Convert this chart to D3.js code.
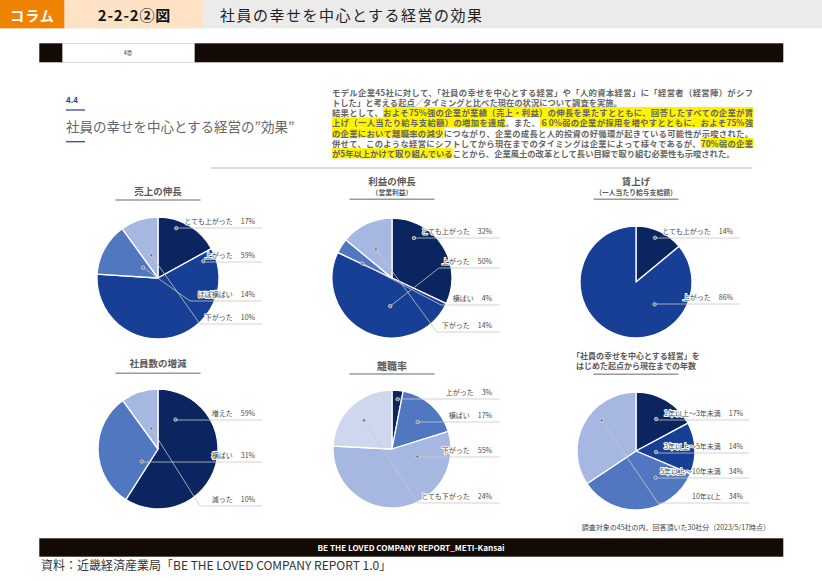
<!DOCTYPE html>
<html>
<head>
<meta charset="utf-8">
<script src="https://cdn.jsdelivr.net/npm/d3@7"></script>
<style>
  body { margin: 0; background: #fff; font-family: "Noto Sans CJK JP", sans-serif; }
  #wrap { position: relative; width: 822px; height: 581px; overflow: hidden; }
  #para { position: absolute; left: 332px; top: 86.5px; width: 421px; font-size: 8.3px; line-height: 10.3px; color: #666; font-weight: bold; }
  #para div { text-align: justify; text-align-last: justify; }
  #para div.short { text-align-last: left; }
</style>
</head>
<body>
<div id="wrap"><div id="para"></div></div>
<script>
// ---- data ----
var salesLabels = ["とても上がった", "上がった", "ほぼ横ばい", "下がった"];
var salesValues = [17, 59, 14, 10];
var profitLabels = ["とても上がった", "上がった", "横ばい", "下がった"];
var profitValues = [32, 50, 4, 14];
var wageLabels = ["とても上がった", "上がった"];
var wageValues = [14, 86];
var staffLabels = ["増えた", "横ばい", "減った"];
var staffValues = [59, 31, 10];
var turnoverLabels = ["上がった", "横ばい", "下がった", "とても下がった"];
var turnoverValues = [3, 17, 55, 24];
var yearsLabels = ["1年以上～3年未満", "3年以上～5年未満", "5年以上～10年未満", "10年以上"];
var yearsValues = [17, 14, 34, 34];

var pieTitles = [
  ["売上の伸長"],
  ["利益の伸長", "（営業利益）"],
  ["賃上げ", "（一人当たり給与支給額）"],
  ["社員数の増減"],
  ["離職率"],
  ["「社員の幸せを中心とする経営」を", "はじめた起点から現在までの年数"]
];

// paragraph lines: [text, highlighted]
var paraLines = [
  [["モデル企業45社に対して、「社員の幸せを中心とする経営」や「人的資本経営」に「経営者（経営陣）がシフ", 0]],
  [["トした」と考える起点／タイミングと比べた現在の状況について調査を実施。", 0]],
  [["結果として、", 0], ["およそ75%強の企業が業績（売上・利益）の伸長を果たすとともに、回答したすべての企業が賃", 1]],
  [["上げ（一人当たり給与支給額）の増加を達成", 1], ["。また、", 0], ["６0%弱の企業が採用を増やすとともに、およそ75%強", 1]],
  [["の企業において離職率の減少", 1], ["につながり、企業の成長と人的投資の好循環が起きている可能性が示唆された。", 0]],
  [["併せて、このような経営にシフトしてから現在までのタイミングは企業によって様々であるが、", 0], ["70%弱の企業", 1]],
  [["が5年以上かけて取り組んでいる", 1], ["ことから、企業風土の改革として長い目線で取り組む必要性も示唆された。", 0]]
];
var shortLines = [1, 6];

var pieData = [
  { labels: salesLabels, values: salesValues },
  { labels: profitLabels, values: profitValues },
  { labels: wageLabels, values: wageValues },
  { labels: staffLabels, values: staffValues },
  { labels: turnoverLabels, values: turnoverValues },
  { labels: yearsLabels, values: yearsValues }
];

// ---- layout / style ----
var C = { dark: "#0b2561", blue: "#173f95", mid: "#5077c0", light: "#a6b8e2", pale: "#cdd8ee" };
var layout = [
  { cx: 158, cy: 278, r: 61, colors: ["dark", "blue", "mid", "light"],
    dots: [[0.33, 0.87], [0.04, 0.79], [0.62, 0.30], [0.54, 0.39]],
    rows: [228, 262, 301, 324], bends: [null, null, 190, 200], textEnd: 255, lineEnd: 262,
    titleY: [190.5], titleSize: [9.5], ruleY: 200 },
  { cx: 392, cy: 278, r: 60, colors: ["dark", "blue", "mid", "light"],
    dots: [[0.25, 0.76], [0.38, 0.47], [0.05, 0.55], [0.42, 0.55]],
    rows: [238, 268, 305, 332], bends: [null, 439, 441, 437], textEnd: 492, lineEnd: 500,
    titleY: [181, 191.7], titleSize: [9.5, 6.8], ruleY: 199.3 },
  { cx: 636, cy: 282, r: 56, colors: ["dark", "blue"],
    dots: [[0.46, 0.86], [0.29, 0.52]],
    rows: [238, 304], bends: [null, null], textEnd: 733, lineEnd: 740,
    titleY: [181, 191.7], titleSize: [9.5, 6.8], ruleY: 199.3 },
  { cx: 158, cy: 449, r: 60, colors: ["dark", "mid", "light"],
    dots: [[0.145, 0.57], [0.18, 0.34], [0.5, 0.36]],
    rows: [420, 462, 506], bends: [null, null, 200], textEnd: 255, lineEnd: 262,
    titleY: [363.3], titleSize: [9.5], ruleY: 373.3 },
  { cx: 392, cy: 449, r: 59, colors: ["dark", "mid", "light", "pale"],
    dots: [[0.59, 0.85], [0.53, 0.63], [0.17, 0.45], [0.49, 0.68]],
    rows: [399, 422, 457, 503], bends: [null, null, null, 418], textEnd: 492, lineEnd: 500,
    titleY: [365], titleSize: [10], ruleY: 374 },
  { cx: 636, cy: 451, r: 59, colors: ["dark", "blue", "mid", "light"],
    dots: [[0.52, 0.64], [0.61, 0.34], [0.25, 0.56], [0.61, 0.78]],
    rows: [420, 453, 478, 503], bends: [null, null, null, 658], textEnd: 743, lineEnd: 749,
    titleY: [355, 365.7], titleSize: [8, 8], ruleY: 374.3 }
];

var svg = d3.select("#wrap").insert("svg", "#para")
  .attr("width", 822).attr("height", 581)
  .style("position", "absolute").style("left", 0).style("top", 0);
var hlLayer = svg.append("g");

// header
svg.append("rect").attr("width", 822).attr("height", 28.3).attr("fill", "#ebebeb");
svg.append("rect").attr("x", 64.3).attr("width", 139).attr("height", 28.3).attr("fill", "#fde2c6");
svg.append("rect").attr("width", 64.3).attr("height", 28.3).attr("fill", "#ef8200");
svg.append("text").attr("x", 32.5).attr("y", 14.5).attr("text-anchor", "middle").attr("dominant-baseline", "central")
  .attr("fill", "#fff").attr("font-size", 14).attr("font-weight", "bold").attr("letter-spacing", 1).text("コラム");
svg.append("text").attr("x", 134.5).attr("y", 14.5).attr("text-anchor", "middle").attr("dominant-baseline", "central")
  .attr("fill", "#111").attr("font-size", 15).attr("font-weight", "bold").attr("letter-spacing", 0.8).text("2-2-2②図");
svg.append("text").attr("x", 220).attr("y", 14.5).attr("dominant-baseline", "central")
  .attr("fill", "#222").attr("font-size", 15).attr("letter-spacing", 1.5).text("社員の幸せを中心とする経営の効果");

// top black bar
svg.append("rect").attr("x", 39.3).attr("y", 43.3).attr("width", 744).attr("height", 19).attr("fill", "#140a05");
svg.append("rect").attr("x", 62.7).attr("y", 43.3).attr("width", 131.6).attr("height", 19).attr("fill", "#fff")
  .attr("stroke", "#e6e6e6").attr("stroke-width", 0.6);
svg.append("text").attr("x", 128).attr("y", 53).attr("text-anchor", "middle").attr("dominant-baseline", "central")
  .attr("font-size", 5.5).attr("fill", "#333").text("4章");

// section heading
svg.append("text").attr("x", 66).attr("y", 99.3).attr("dominant-baseline", "central")
  .attr("font-size", 8).attr("font-weight", "bold").attr("fill", "#2b4c9c").text("4.4");
[110, 141.7].forEach(function (y) {
  svg.append("line").attr("x1", 66).attr("x2", 85).attr("y1", y).attr("y2", y)
    .attr("stroke", "#2b4c9c").attr("stroke-width", 1.3);
});
svg.append("text").attr("x", 66).attr("y", 125.5).attr("dominant-baseline", "central")
  .attr("font-size", 13.5).attr("fill", "#666").text("社員の幸せを中心とする経営の”効果”");
svg.append("line").attr("x1", 211).attr("x2", 752).attr("y1", 168).attr("y2", 168)
  .attr("stroke", "#cfcfcf").attr("stroke-width", 1.5);

// paragraph text (HTML), highlights drawn behind it as svg rects
d3.select("#para").selectAll("div").data(paraLines).join("div")
  .attr("class", function (d, i) { return shortLines.indexOf(i) >= 0 ? "short" : null; })
  .selectAll("span").data(function (d) { return d; }).join("span")
  .attr("class", function (d) { return d[1] ? "hl" : null; })
  .text(function (d) { return d[0]; });

var box = document.getElementById("wrap").getBoundingClientRect();
d3.selectAll("#para span.hl").each(function () {
  var range = document.createRange();
  range.selectNodeContents(this);
  Array.from(range.getClientRects()).forEach(function (r) {
    hlLayer.append("rect")
      .attr("x", r.left - box.left).attr("y", (r.top + r.bottom) / 2 - box.top - 5.15)
      .attr("width", r.width).attr("height", 10.3).attr("fill", "#fff200");
  });
});

// pies
var pie = d3.pie().sort(null).value(function (d) { return d; });

pieData.forEach(function (pd, pi) {
  var L = layout[pi];
  var g = svg.append("g");
  var arcs = pie(pd.values);
  var arc = d3.arc().innerRadius(0).outerRadius(L.r);

  // title
  pieTitles[pi].forEach(function (t, ti) {
    g.append("text").attr("x", L.cx).attr("y", L.titleY[ti])
      .attr("text-anchor", "middle").attr("dominant-baseline", "central")
      .attr("font-size", L.titleSize[ti]).attr("font-weight", "bold").attr("fill", "#595959").text(t);
  });
  g.append("line").attr("x1", L.cx - 42.5).attr("x2", L.cx + 42.5).attr("y1", L.ruleY).attr("y2", L.ruleY)
    .attr("stroke", "#9a9a9a").attr("stroke-width", 1.5);

  var pg = g.append("g").attr("transform", "translate(" + L.cx + "," + L.cy + ")");
  pg.selectAll("path").data(arcs).join("path")
    .attr("d", arc)
    .attr("fill", function (d, i) { return C[L.colors[i]]; })
    .attr("stroke", "#fff").attr("stroke-width", 1.3).attr("stroke-linejoin", "round");

  // label rows
  var dotPos = arcs.map(function (a, i) {
    var t = L.dots[i][0], rf = L.dots[i][1];
    var ang = a.startAngle + t * (a.endAngle - a.startAngle);
    return [L.cx + rf * L.r * Math.sin(ang), L.cy - rf * L.r * Math.cos(ang)];
  });

  arcs.forEach(function (a, i) {
    var ly = L.rows[i];
    var p = dotPos[i];
    var bx = L.bends[i] == null ? p[0] : L.bends[i];
    g.append("path")
      .attr("d", d3.line()([p, [bx, ly], [L.lineEnd, ly]]))
      .attr("fill", "none").attr("stroke", "#c8c8c8").attr("stroke-width", 0.8);
  });

  arcs.forEach(function (a, i) {
    var ly = L.rows[i];
    var txt = g.append("text").attr("x", L.textEnd).attr("y", ly - 7.5)
      .attr("text-anchor", "end").attr("dominant-baseline", "central")
      .attr("font-size", 7).attr("fill", "#4a4a4a")
      .attr("stroke", "#fff").attr("stroke-width", 2).attr("paint-order", "stroke").attr("stroke-linejoin", "round");
    txt.append("tspan").text(pd.labels[i]);
    txt.append("tspan").attr("dx", 8).text(pd.values[i] + "%");
  });

  g.selectAll("circle.dot").data(dotPos).join("circle")
    .attr("class", "dot")
    .attr("cx", function (d) { return d[0]; }).attr("cy", function (d) { return d[1]; })
    .attr("r", 1.7).attr("fill", "#777").attr("stroke", "#e0e0e0").attr("stroke-width", 0.8);
});

// footnote
svg.append("text").attr("x", 770).attr("y", 527).attr("text-anchor", "end").attr("dominant-baseline", "central")
  .attr("font-size", 7).attr("fill", "#444").text("調査対象の45社の内、回答頂いた30社分（2023/5/17時点）");

// footer bar
svg.append("rect").attr("x", 39.3).attr("y", 538.3).attr("width", 744).attr("height", 18.4).attr("fill", "#140a05");
svg.append("text").attr("x", 411).attr("y", 547.5).attr("text-anchor", "middle").attr("dominant-baseline", "central")
  .attr("font-size", 7.5).attr("font-weight", "bold").attr("fill", "#fff")
  .attr("textLength", 187).attr("lengthAdjust", "spacingAndGlyphs")
  .text("BE THE LOVED COMPANY REPORT_METI-Kansai");
svg.append("text").attr("x", 41).attr("y", 564.5).attr("dominant-baseline", "central")
  .attr("font-size", 12).attr("fill", "#333").text("資料：近畿経済産業局「BE THE LOVED COMPANY REPORT 1.0」");
</script>
</body>
</html>
